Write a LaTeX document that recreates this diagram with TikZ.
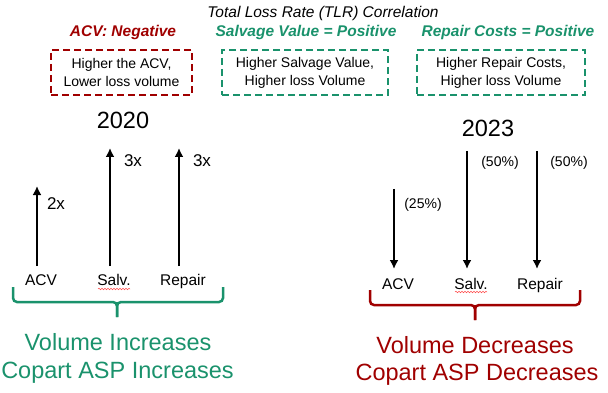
\documentclass[tikz,border=0pt]{standalone}
\usepackage{fontspec}
\setmainfont{Liberation Sans}
\usetikzlibrary{arrows.meta,decorations.pathmorphing}
\definecolor{dred}{RGB}{160,0,0}
\definecolor{tgreen}{RGB}{26,146,108}
\begin{document}
\begin{tikzpicture}[x=1pt,y=-1pt,
  txt/.style={inner sep=0pt,anchor=base},
  title/.style={txt,font=\fontsize{15.5}{18}\selectfont\itshape},
  hdr/.style={txt,font=\fontsize{15.5}{18}\selectfont\bfseries\itshape},
  dbox/.style={draw,dash pattern=on 7pt off 4pt,line width=1.9pt,minimum height=45pt,
    align=center,inner sep=0pt,font=\fontsize{14}{18}\selectfont},
  year/.style={txt,font=\fontsize{23.5}{26}\selectfont},
  cat/.style={txt,font=\fontsize{15.5}{18}\selectfont},
  mult/.style={txt,font=\fontsize{17}{19}\selectfont},
  pct/.style={txt,font=\fontsize{14}{16}\selectfont},
  big/.style={txt,font=\fontsize{23.5}{28}\selectfont},
  arr/.style={-{Latex[length=9pt,width=9pt]},line width=2.7pt},
  brace/.style={line width=2.5pt,rounded corners=4pt},
  squig/.style={red!70,line width=0.5pt,decorate,decoration={snake,amplitude=0.8pt,segment length=3pt}}
]
\useasboundingbox (0,0) rectangle (608,393);

% header
\node[title] (ttl) at (323,18) {Total Loss Rate (TLR) Correlation};
\node[hdr,text=dred] (h1) at (123,37) {ACV: Negative};
\node[hdr,text=tgreen] (h2) at (306,37) {Salvage Value = Positive};
\node[hdr,text=tgreen] (h3) at (508,37) {Repair Costs = Positive};

\node[dbox,draw=dred,minimum width=141pt] (b1) at (121.5,72.5) {Higher the ACV,\\Lower loss volume};
\node[dbox,draw=tgreen,minimum width=166pt] (b2) at (305,72.5) {Higher Salvage Value,\\Higher loss Volume};
\node[dbox,draw=tgreen,minimum width=168pt] (b3) at (501,72.5) {Higher Repair Costs,\\Higher loss Volume};

% 2020 panel
\node[year] (y20) at (123,129) {2020};
\coordinate (l1b) at (37,266);  \coordinate (l1t) at (37,186);
\coordinate (l2b) at (110,266); \coordinate (l2t) at (110,148);
\coordinate (l3b) at (179,266); \coordinate (l3t) at (179,148);
\draw[arr] (l1b) -- (l1t);
\draw[arr] (l2b) -- (l2t);
\draw[arr] (l3b) -- (l3t);
\node[mult] (m1) at (56,209) {2x};
\node[mult] (m2) at (133,167) {3x};
\node[mult] (m3) at (202,167) {3x};
\node[cat] (c1) at (41,285.5) {ACV};
\node[cat] (c2) at (114,285.5) {Salv.};
\node[cat] (c3) at (183,285.5) {Repair};
\draw[squig] (98,289) -- (130,289);

\coordinate (lbl) at (13,287); \coordinate (lbr) at (223,287);
\coordinate (lbt) at (117,317);
\draw[brace,tgreen] (lbl) -- (13,302) -- (117,302) -- (lbt);
\draw[brace,tgreen] (lbr) -- (223,302) -- (117,302) -- (lbt);
\node[big,text=tgreen] (v1) at (118,350) {Volume Increases};
\node[big,text=tgreen] (v2) at (117.5,378) {Copart ASP Increases};

% 2023 panel
\node[year] (y23) at (488,137) {2023};
\coordinate (r1t) at (394,189); \coordinate (r1b) at (394,269);
\coordinate (r2t) at (467,151); \coordinate (r2b) at (467,269);
\coordinate (r3t) at (537,151); \coordinate (r3b) at (537,269);
\draw[arr] (r1t) -- (r1b);
\draw[arr] (r2t) -- (r2b);
\draw[arr] (r3t) -- (r3b);
\node[pct] (p1) at (423,208) {(25\%)};
\node[pct] (p2) at (500,167) {(50\%)};
\node[pct] (p3) at (569,167) {(50\%)};
\node[cat] (d1) at (398,289) {ACV};
\node[cat] (d2) at (471,289) {Salv.};
\node[cat] (d3) at (540,289) {Repair};
\draw[squig] (455,292) -- (487,292);

\coordinate (rbl) at (370,290); \coordinate (rbr) at (580,290);
\coordinate (rbt) at (475,320);
\draw[brace,dred] (rbl) -- (370,305) -- (475,305) -- (rbt);
\draw[brace,dred] (rbr) -- (580,305) -- (475,305) -- (rbt);
\node[big,text=dred] (w1) at (475,353) {Volume Decreases};
\node[big,text=dred] (w2) at (477,380) {Copart ASP Decreases};
\end{tikzpicture}
\end{document}
